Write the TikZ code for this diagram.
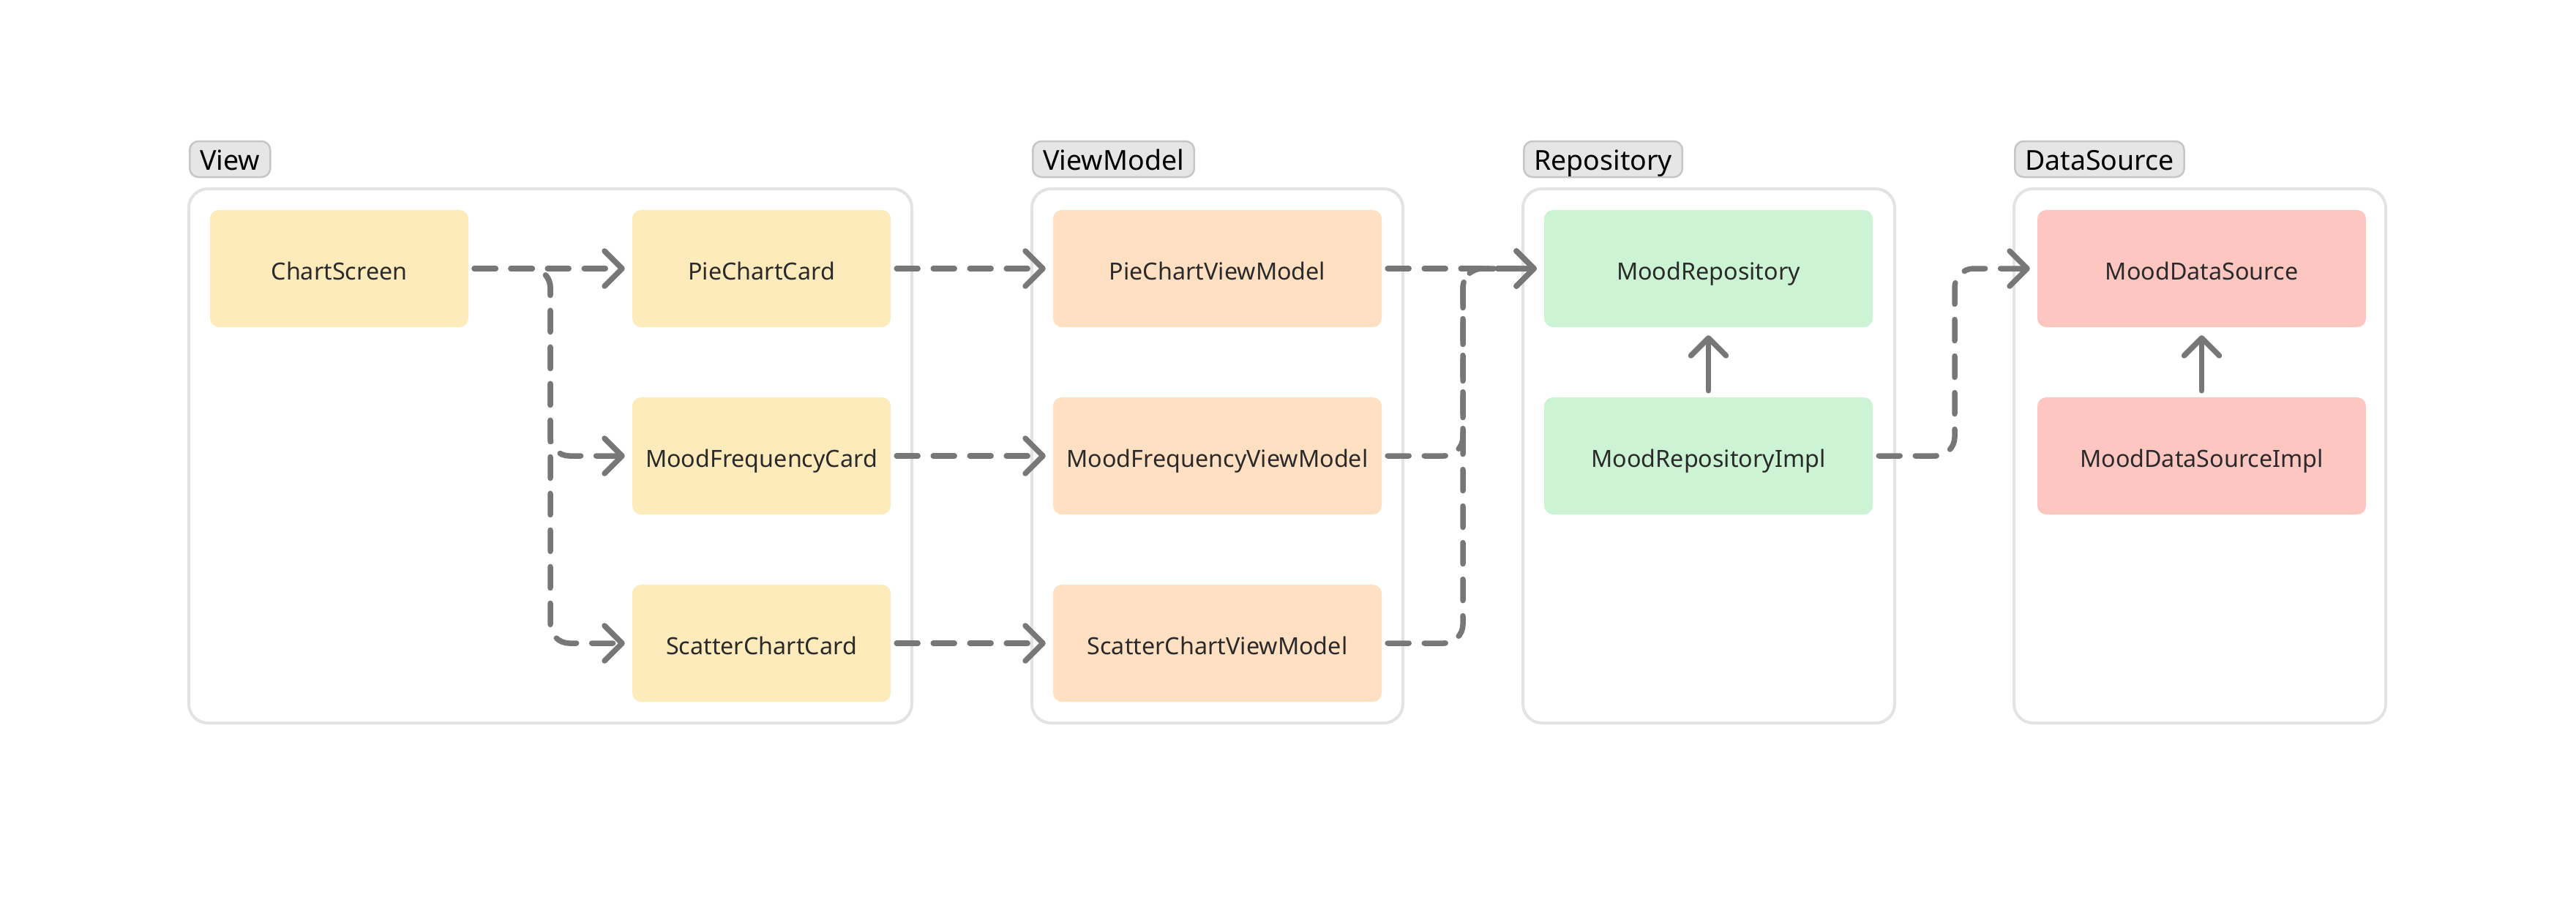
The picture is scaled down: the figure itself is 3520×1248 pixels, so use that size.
\documentclass[tikz,border=0pt]{standalone}
\usepackage{fontspec}
\setmainfont{Noto Sans}
\usetikzlibrary{arrows.meta}
\definecolor{viewfill}{HTML}{FEEBBB}
\definecolor{vmfill}{HTML}{FFE0C2}
\definecolor{repfill}{HTML}{CCF3D3}
\definecolor{dsfill}{HTML}{FEC6C1}
\definecolor{edgecol}{HTML}{777777}
\definecolor{contcol}{HTML}{E3E3E3}
\definecolor{tagfill}{HTML}{E6E6E6}
\definecolor{tagline}{HTML}{C6C6C6}
\definecolor{txtcol}{HTML}{2A2A2A}
\begin{document}
\begin{tikzpicture}[x=1pt,y=-1pt,
  box/.style={rounded corners=12pt, minimum height=160pt, inner sep=0pt,
    text height=30pt, text depth=0pt,
    font=\fontsize{32.3}{38}\selectfont, text=txtcol},
  wbox/.style={box, minimum width=449pt},
  cont/.style={draw=contcol, line width=4pt, rounded corners=26pt, minimum height=730pt, inner sep=0pt},
  tag/.style={draw=tagline, fill=tagfill, line width=2.5pt, rounded corners=12pt, minimum height=49pt,
    inner xsep=14pt, inner ysep=0pt, text height=29pt, text depth=0pt,
    font=\fontsize{37.5}{44}\selectfont, text=black},
  dep/.style={draw=edgecol, line width=7.5pt, dash pattern=on 29pt off 21pt, line cap=round,
    rounded corners=26pt, -{Straight Barb[round,length=24pt,width=48pt]}, shorten <=8pt, shorten >=10pt},
  impl/.style={draw=edgecol, line width=7.5pt, line cap=round,
    -{Straight Barb[round,length=24pt,width=48pt]}, shorten <=9pt, shorten >=11pt}
]
\useasboundingbox[fill=white] (0,0) rectangle (3520,1248);
% containers
\node[cont, minimum width=988pt] (cview) at (752,623) {};
\node[cont, minimum width=507pt] (cvm) at (1663.5,623) {};
\node[cont, minimum width=508pt] (crep) at (2335,623) {};
\node[cont, minimum width=508pt] (cds) at (3006,623) {};
% tags
\node[tag, anchor=west] (tview) at (258,217.5) {View};
\node[tag, anchor=west] (tvm) at (1410,217.5) {ViewModel};
\node[tag, anchor=west] (trep) at (2081,217.5) {Repository};
\node[tag, anchor=west] (tds) at (2752,217.5) {DataSource};
% view nodes
\node[box, fill=viewfill, minimum width=353pt] (cs) at (463.5,367) {ChartScreen};
\node[box, fill=viewfill, minimum width=353pt] (pie) at (1040.5,367) {PieChartCard};
\node[box, fill=viewfill, minimum width=353pt] (mf) at (1040.5,623) {MoodFrequencyCard};
\node[box, fill=viewfill, minimum width=353pt] (sc) at (1040.5,879) {ScatterChartCard};
% viewmodel nodes
\node[wbox, fill=vmfill] (pievm) at (1663.5,367) {PieChartViewModel};
\node[wbox, fill=vmfill] (mfvm) at (1663.5,623) {MoodFrequencyViewModel};
\node[wbox, fill=vmfill] (scvm) at (1663.5,879) {ScatterChartViewModel};
% repository nodes
\node[wbox, fill=repfill] (repo) at (2334.5,367) {MoodRepository};
\node[wbox, fill=repfill] (rimpl) at (2334.5,623) {MoodRepositoryImpl};
% datasource nodes
\node[wbox, fill=dsfill] (ds) at (3008.5,367) {MoodDataSource};
\node[wbox, fill=dsfill] (dsimpl) at (3008.5,623) {MoodDataSourceImpl};
% bus coordinates
\coordinate (busA) at (752,0);
\coordinate (busB) at (1999,0);
\coordinate (busC) at (2671,0);
% connectors
\draw[dep] (cs.east) -- (pie.west);
\draw[dep] (cs.east) -- (cs.east -| busA) |- (mf.west);
\draw[dep] (cs.east) -- (cs.east -| busA) |- (sc.west);
\draw[dep] (pie.east) -- (pievm.west);
\draw[dep] (mf.east) -- (mfvm.west);
\draw[dep] (sc.east) -- (scvm.west);
\draw[dep] (pievm.east) -- (repo.west);
\draw[dep] (mfvm.east) -- (mfvm.east -| busB) |- (repo.west);
\draw[dep] (scvm.east) -- (scvm.east -| busB) |- (repo.west);
\draw[impl] (rimpl.north) -- (repo.south);
\draw[dep] (rimpl.east) -- (rimpl.east -| busC) |- (ds.west);
\draw[impl] (dsimpl.north) -- (ds.south);
\end{tikzpicture}
\end{document}
